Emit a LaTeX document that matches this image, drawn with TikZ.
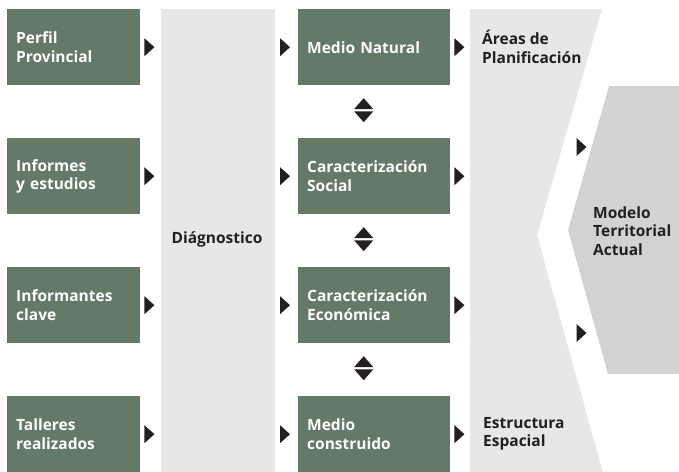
\documentclass[tikz,border=0pt]{standalone}
\usepackage{fontspec}
\setmainfont{Open Sans}
\usetikzlibrary{calc}
\definecolor{boxgreen}{RGB}{101,121,104}
\definecolor{lightpanel}{RGB}{230,231,231}
\definecolor{darkpanel}{RGB}{209,210,212}
\definecolor{inkblack}{RGB}{35,31,32}
\tikzset{
  txt/.style={font=\bfseries\fontsize{15.5}{18.3}\selectfont, align=left},
  greenbox/.style={txt, fill=boxgreen, text=white, anchor=north west, minimum height=76pt, inner ysep=0pt},
  leftbox/.style={greenbox, text width=115pt, inner xsep=9pt},
  midbox/.style={greenbox, text width=134pt, inner xsep=9pt},
  paneltext/.style={txt, text=inkblack, inner sep=0pt, anchor=west},
  rtri/.pic={\fill[inkblack] (-5,-9) -- (5,0) -- (-5,9) -- cycle;},
  dtri/.pic={\fill[inkblack] (-9.5,-1.2) -- (0,-12) -- (9.5,-1.2) -- cycle;
             \fill[inkblack] (-9.5,1.2) -- (0,12) -- (9.5,1.2) -- cycle;}
}
\begin{document}
\begin{tikzpicture}[x=1pt,y=-1pt]
\useasboundingbox (0,0) rectangle (679,471);
% panels
\node[fill=lightpanel, anchor=north west, minimum width=114pt, minimum height=470pt, inner sep=0pt, outer sep=0pt] (diagpanel) at (161,9) {};
\node[txt, text=inkblack, anchor=base] (diag) at (217,243) {Diágnostico};
\fill[lightpanel] (470,9) -- (602,9) -- (537,235) -- (605,480) -- (470,480) -- cycle;
\fill[darkpanel] (609,86) -- (679,86) -- (679,374) -- (608,374) -- (568,230) -- cycle;
% left column
\node[leftbox] (p1) at (7,9) {Perfil\\Provincial};
\node[leftbox] (p2) at (7,138) {Informes\\y estudios};
\node[leftbox] (p3) at (7,267) {Informantes\\clave};
\node[leftbox] (p4) at (7,396) {Talleres\\realizados};
% middle column
\node[midbox] (m1) at (298,9) {Medio Natural};
\node[midbox] (m2) at (298,138) {Caracterización\\Social};
\node[midbox] (m3) at (298,267) {Caracterización\\Económica};
\node[midbox] (m4) at (298,396) {Medio\\construido};
% right texts
\node[paneltext] (areas) at (482,47) {Áreas de\\Planificación};
\node[paneltext] (estr) at (483,434) {Estructura\\Espacial};
\node[paneltext] (modelo) at (593,231) {Modelo\\Territorial\\Actual};
% arrows
\foreach \n in {1,2,3,4}{
  \pic at ($(p\n.east)+(9,0)$) {rtri};
  \pic at ($(m\n.west)+(-13,0)$) {rtri};
  \pic at ($(m\n.east)+(9,0)$) {rtri};
}
\pic at (581.5,147) {rtri};
\pic at (581.5,333) {rtri};
\pic at ($($(m1.south)!0.5!(m2.north)$)+(-10.5,-1.5)$) {dtri};
\pic at ($($(m2.south)!0.5!(m3.north)$)+(-10.5,-1.5)$) {dtri};
\pic at ($($(m3.south)!0.5!(m4.north)$)+(-10.5,-1.5)$) {dtri};
\end{tikzpicture}
\end{document}
